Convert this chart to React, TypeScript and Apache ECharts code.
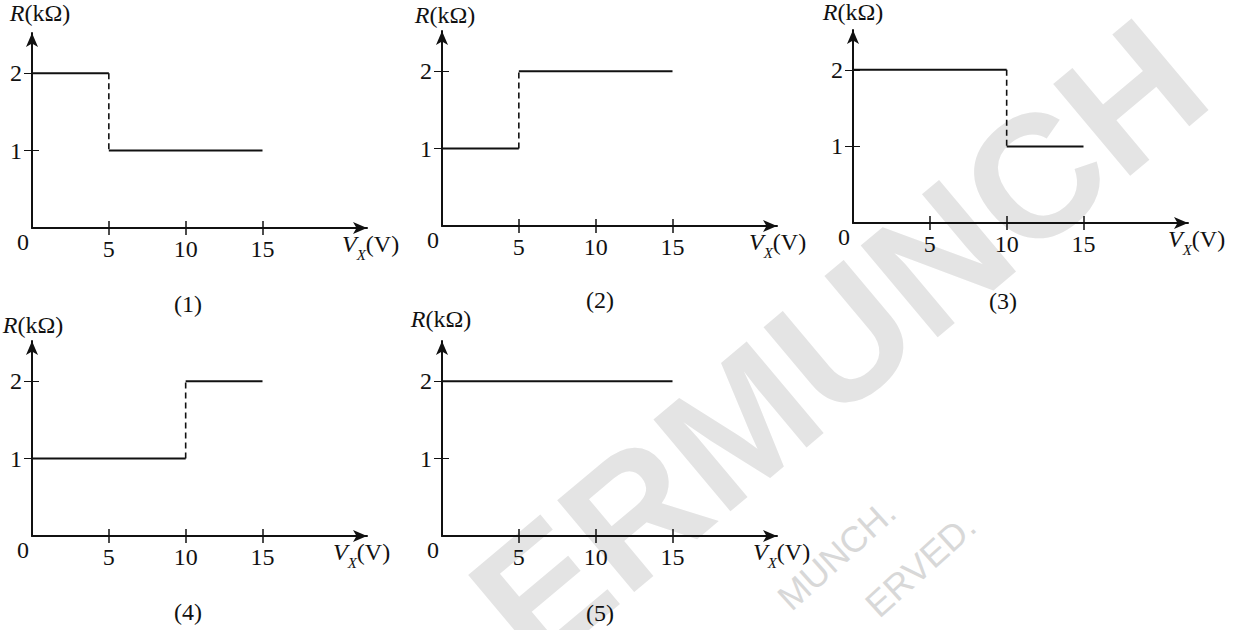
import React, { useEffect, useRef } from "react";
import * as echarts from "echarts";

// ---- data ----
const xTickValues = [5, 10, 15];
const yTickValues = [1, 2];
const originLabel = [0];
const panelLabels = ["(1)", "(2)", "(3)", "(4)", "(5)"];
// step segments: [fromVx, toVx, R (kΩ)]
const panel1Steps = [[0, 5, 2], [5, 15, 1]];
const panel2Steps = [[0, 5, 1], [5, 15, 2]];
const panel3Steps = [[0, 10, 2], [10, 15, 1]];
const panel4Steps = [[0, 10, 1], [10, 15, 2]];
const panel5Steps = [[0, 15, 2]];
const allSteps = [panel1Steps, panel2Steps, panel3Steps, panel4Steps, panel5Steps];
const X_MAX = 21.8;
const Y_MAX = 2.52;
const xName = "{i|V}{s|X}{n|(V)}";
const yName = "{i|R}{n|(kΩ)}";
const watermarkBig = "ERMUNCH";
const watermarkSmall1 = "MUNCH.";
const watermarkSmall2 = "ERVED.";

// ---- layout ----
const GW = 335;
const GH = 195;
const layouts = [
  { left: 32, top: 33, xGap: -25, yGap: 2, yPad: [0, 0, 0, 16], lx: 188, ly: 304 },
  { left: 442, top: 31, xGap: -28, yGap: -2, yPad: [0, 0, 0, 6], lx: 600, ly: 300 },
  { left: 853, top: 28, xGap: -20, yGap: 0, yPad: [0, 0, 0, 0], lx: 1003, ly: 301 },
  { left: 32, top: 341, xGap: -34, yGap: -2, yPad: [0, 0, 0, 2], lx: 188, ly: 612 },
  { left: 442, top: 341, xGap: -24, yGap: 4, yPad: [0, 2, 0, 0], lx: 600, ly: 613 },
];

const INK = "#111111";
const SERIF = "'Liberation Serif', 'Times New Roman', serif";
const SANS = "'Liberation Sans', Arial, sans-serif";
const FS = 24;

const richName = {
  i: { fontFamily: SERIF, fontStyle: "italic", fontSize: FS, color: INK, lineHeight: 30, verticalAlign: "top" },
  n: { fontFamily: SERIF, fontSize: FS, color: INK, lineHeight: 30, verticalAlign: "top" },
  s: { fontFamily: SERIF, fontStyle: "italic", fontSize: 15, color: INK, lineHeight: 16, padding: [18, 0, 0, 0], verticalAlign: "bottom" },
};

function buildOption() {
  const grid: any[] = [];
  const xAxis: any[] = [];
  const yAxis: any[] = [];
  const series: any[] = [];
  const graphic: any[] = [];

  layouts.forEach((L, gi) => {
    grid.push({ left: L.left, top: L.top, width: GW, height: GH, containLabel: false });
    xAxis.push({
      type: "value",
      gridIndex: gi,
      min: 0,
      max: X_MAX,
      position: "bottom",
      axisLine: { show: true, onZero: false, symbol: ["none", "arrow"], symbolSize: [9, 14], lineStyle: { color: INK, width: 2 } },
      axisTick: { show: true, customValues: xTickValues, length: 7, lineStyle: { color: INK, width: 1.5 } },
      axisLabel: { show: true, customValues: xTickValues, margin: 9, fontFamily: SERIF, fontSize: FS, color: INK },
      splitLine: { show: false },
      name: xName,
      nameLocation: "end",
      nameGap: L.xGap,
      nameTextStyle: { align: "left", verticalAlign: "top", padding: [4, 0, 0, 0], rich: richName },
    });
    xAxis.push({
      type: "value",
      gridIndex: gi,
      min: 0,
      max: X_MAX,
      position: "bottom",
      axisLine: { show: false },
      axisTick: { show: true, inside: true, customValues: xTickValues, length: 7, lineStyle: { color: INK, width: 1.5 } },
      axisLabel: {
        show: true,
        customValues: originLabel,
        margin: 2,
        formatter: (v: number) => "{z|" + v + "}",
        rich: { z: { fontFamily: SERIF, fontSize: FS, color: INK, padding: [0, 18, 0, 0] } },
      },
      splitLine: { show: false },
    });
    yAxis.push({
      type: "value",
      gridIndex: gi,
      min: 0,
      max: Y_MAX,
      position: "left",
      axisLine: { show: true, onZero: false, symbol: ["none", "arrow"], symbolSize: [9, 14], lineStyle: { color: INK, width: 2 } },
      axisTick: { show: true, customValues: yTickValues, length: 8, lineStyle: { color: INK, width: 1 } },
      axisLabel: { show: true, customValues: yTickValues, margin: 10, fontFamily: SERIF, fontSize: FS, color: INK },
      splitLine: { show: false },
      name: yName,
      nameLocation: "end",
      nameGap: L.yGap,
      nameTextStyle: { align: "center", verticalAlign: "bottom", padding: L.yPad, rich: richName },
    });
    yAxis.push({
      type: "value",
      gridIndex: gi,
      min: 0,
      max: Y_MAX,
      position: "left",
      axisLine: { show: false },
      axisTick: { show: true, inside: true, customValues: yTickValues, length: 7, lineStyle: { color: INK, width: 1 } },
      axisLabel: { show: false },
      splitLine: { show: false },
    });

    const steps = allSteps[gi];
    steps.forEach((s, k) => {
      series.push({
        type: "line",
        xAxisIndex: 2 * gi,
        yAxisIndex: 2 * gi,
        data: [[s[0], s[2]], [s[1], s[2]]],
        symbol: "none",
        silent: true,
        lineStyle: { color: INK, width: 2 },
      });
      if (k < steps.length - 1) {
        const nx = steps[k + 1];
        series.push({
          type: "line",
          xAxisIndex: 2 * gi,
          yAxisIndex: 2 * gi,
          data: [[s[1], s[2]], [s[1], nx[2]]],
          symbol: "none",
          silent: true,
          lineStyle: { color: INK, width: 1.6, type: [6, 4] },
        });
      }
    });

    graphic.push({
      type: "text",
      x: L.lx,
      y: L.ly,
      z: 10,
      style: { text: panelLabels[gi], fontFamily: SERIF, fontSize: FS, fill: INK, align: "center", verticalAlign: "middle" },
    });
  });

  // watermark
  graphic.push({
    type: "text",
    x: 838,
    y: 342,
    rotation: (40 * Math.PI) / 180,
    z: -10,
    style: {
      text: watermarkBig,
      fontFamily: SANS,
      fontWeight: "bold",
      fontSize: 174,
      fill: "#e4e4e4",
      align: "center",
      verticalAlign: "middle",
    },
  });
  graphic.push({
    type: "text",
    x: 902,
    y: 520,
    rotation: (42 * Math.PI) / 180,
    z: -10,
    style: { text: watermarkSmall1, fontFamily: SANS, fontSize: 36, fill: "#d8d8d8", align: "right", verticalAlign: "bottom" },
  });
  graphic.push({
    type: "text",
    x: 982,
    y: 534,
    rotation: (42 * Math.PI) / 180,
    z: -10,
    style: { text: watermarkSmall2, fontFamily: SANS, fontSize: 36, fill: "#d8d8d8", align: "right", verticalAlign: "bottom" },
  });

  return {
    animation: false,
    backgroundColor: "#ffffff",
    grid,
    xAxis,
    yAxis,
    series,
    graphic,
  };
}

export default function App() {
  const ref = useRef<HTMLDivElement | null>(null);
  useEffect(() => {
    if (!ref.current) return;
    const chart = echarts.init(ref.current, undefined, { renderer: "svg" });
    chart.setOption(buildOption() as any);
    return () => chart.dispose();
  }, []);
  return (
    <div
      ref={ref}
      style={{ position: "fixed", left: 0, top: 0, width: 1237, height: 630, background: "#fff" }}
    />
  );
}
